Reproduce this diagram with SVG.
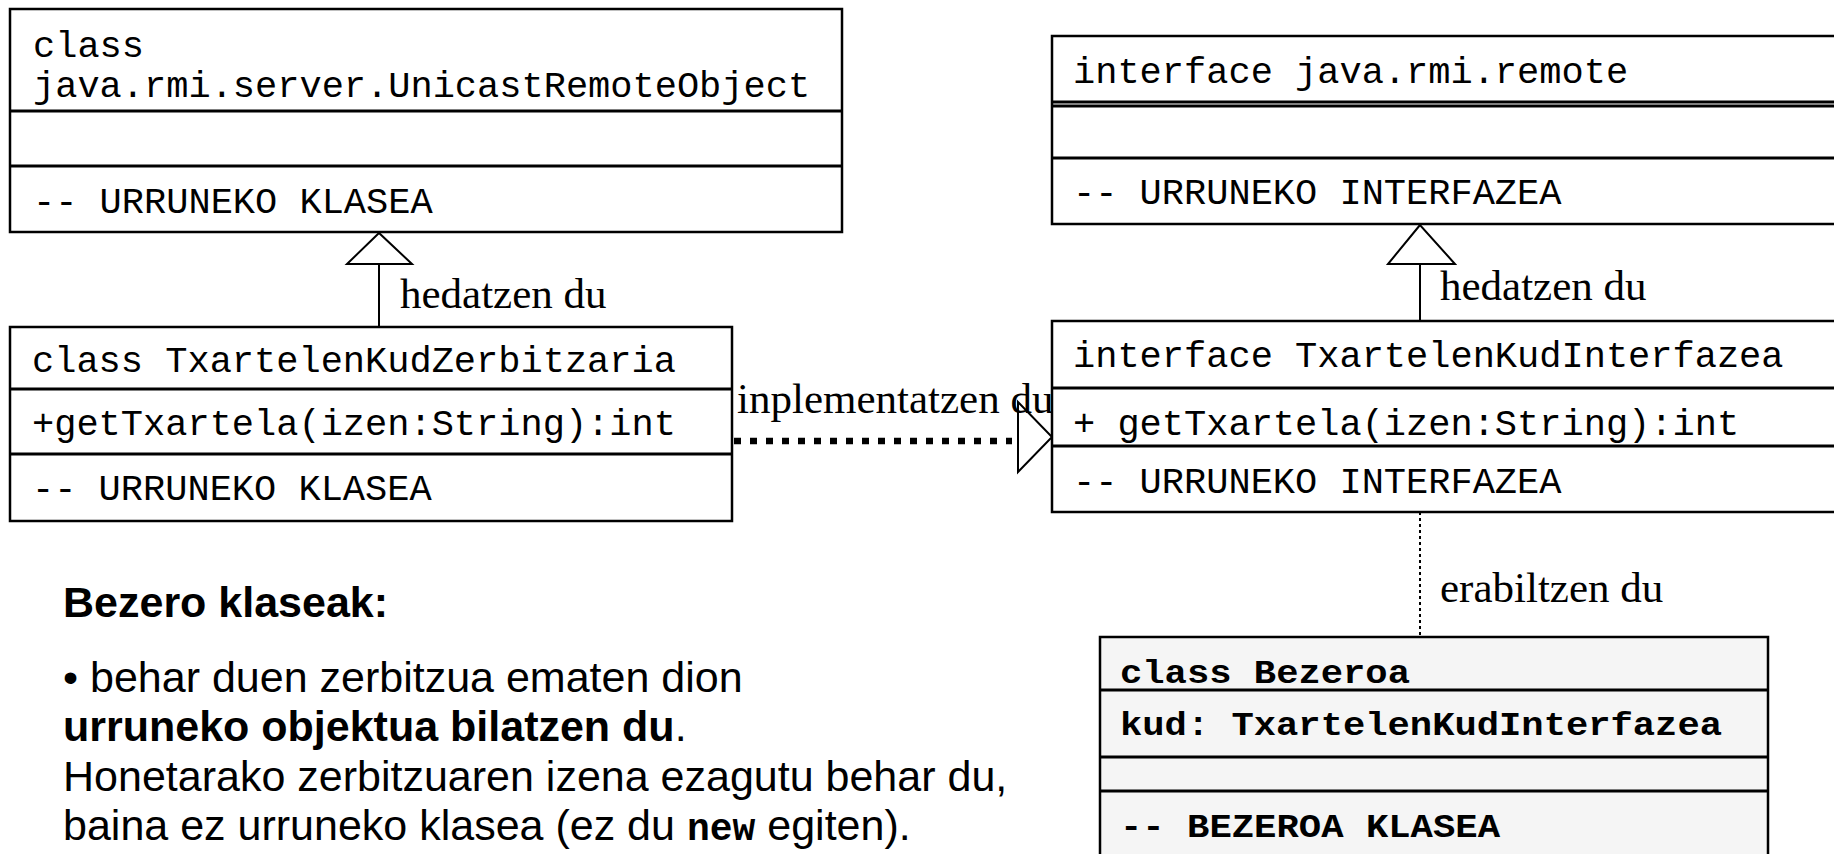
<svg xmlns="http://www.w3.org/2000/svg" width="1834" height="854" viewBox="0 0 1834 854">
<style>
.box{fill:#ffffff;stroke:#000;stroke-width:2.5}
.boxg{fill:#f5f5f5;stroke:#000;stroke-width:2.5}
.div{stroke:#000;stroke-width:3}
.mono{font-family:"Liberation Mono","Courier New",monospace;font-size:37px;fill:#000}
.monob{font-family:"Liberation Mono","Courier New",monospace;font-size:33px;font-weight:bold;fill:#000}
.serif{font-family:"Liberation Serif","Times New Roman",serif;font-size:43px;fill:#000}
.sans{font-family:"Liberation Sans",Arial,sans-serif;font-size:43px;fill:#000}
.ln{stroke:#000;stroke-width:2;fill:none}
.tri{fill:#fff;stroke:#000;stroke-width:2}
</style>
<rect width="1834" height="854" fill="#fff"/>

<g id="connectors">
  <line class="ln" x1="379" y1="264" x2="379" y2="327"/>
  <polygon class="tri" points="379,233 347,264 412,264"/>
  <line class="ln" x1="1420" y1="264" x2="1420" y2="321"/>
  <polygon class="tri" points="1420,225 1388,264 1455,264"/>
  <line x1="734" y1="441" x2="1012" y2="441" stroke="#000" stroke-width="6.5" stroke-dasharray="7 9"/>
  <polygon class="tri" points="1018,402 1052,437 1018,472"/>
  <line class="ln" x1="1420" y1="512" x2="1420" y2="637" stroke-dasharray="3 3"/>
  <text class="serif" x="400" y="308">hedatzen du</text>
  <text class="serif" x="1440" y="300">hedatzen du</text>
  <text class="serif" x="737" y="413">inplementatzen du</text>
  <text class="serif" x="1440" y="602">erabiltzen du</text>
</g>

<g id="UnicastRemoteObject">
  <rect class="box" x="10" y="9" width="832" height="223"/>
  <line class="div" x1="10" y1="111" x2="842" y2="111"/>
  <line class="div" x1="10" y1="166" x2="842" y2="166"/>
  <text class="mono" x="33" y="57">class</text>
  <text class="mono" x="33" y="97">java.rmi.server.UnicastRemoteObject</text>
  <text class="mono" x="33" y="213">-- URRUNEKO KLASEA</text>
</g>

<g id="TxartelenKudZerbitzaria">
  <rect class="box" x="10" y="327" width="722" height="194"/>
  <line class="div" x1="10" y1="389" x2="732" y2="389"/>
  <line class="div" x1="10" y1="454" x2="732" y2="454"/>
  <text class="mono" x="32" y="372">class TxartelenKudZerbitzaria</text>
  <text class="mono" x="32" y="435">+getTxartela(izen:String):int</text>
  <text class="mono" x="32" y="500">-- URRUNEKO KLASEA</text>
</g>

<g id="Remote">
  <rect class="box" x="1052" y="36" width="800" height="188"/>
  <line class="div" x1="1052" y1="102" x2="1834" y2="102"/>
  <line class="div" x1="1052" y1="106" x2="1834" y2="106"/>
  <line class="div" x1="1052" y1="158" x2="1834" y2="158"/>
  <text class="mono" x="1073" y="83">interface java.rmi.remote</text>
  <text class="mono" x="1073" y="204">-- URRUNEKO INTERFAZEA</text>
</g>

<g id="TxartelenKudInterfazea">
  <rect class="box" x="1052" y="321" width="800" height="191"/>
  <line class="div" x1="1052" y1="388" x2="1834" y2="388"/>
  <line class="div" x1="1052" y1="446" x2="1834" y2="446"/>
  <text class="mono" x="1073" y="367">interface TxartelenKudInterfazea</text>
  <text class="mono" x="1073" y="435">+ getTxartela(izen:String):int</text>
  <text class="mono" x="1073" y="493">-- URRUNEKO INTERFAZEA</text>
</g>

<g id="Bezeroa">
  <rect class="boxg" x="1100" y="637" width="668" height="240"/>
  <line class="div" x1="1100" y1="690" x2="1768" y2="690"/>
  <line class="div" x1="1100" y1="757" x2="1768" y2="757"/>
  <line class="div" x1="1100" y1="791" x2="1768" y2="791"/>
  <text class="monob" x="1120" y="683" textLength="290" lengthAdjust="spacingAndGlyphs">class Bezeroa</text>
  <text class="monob" x="1120" y="735" textLength="602" lengthAdjust="spacingAndGlyphs">kud: TxartelenKudInterfazea</text>
  <text class="monob" x="1120" y="837" textLength="380" lengthAdjust="spacingAndGlyphs">-- BEZEROA KLASEA</text>
</g>

<g id="clientText">
  <text class="sans" x="63" y="617" font-weight="bold">Bezero klaseak:</text>
  <text class="sans" x="63" y="692">• behar duen zerbitzua ematen dion</text>
  <text class="sans" x="63" y="741"><tspan font-weight="bold">urruneko objektua bilatzen du</tspan>.</text>
  <text class="sans" x="63" y="791">Honetarako zerbitzuaren izena ezagutu behar du,</text>
  <text class="sans" x="63" y="840">baina ez urruneko klasea (ez du <tspan font-family="Liberation Mono, Courier New, monospace" font-weight="bold" font-size="38">new</tspan> egiten).</text>
</g>
</svg>
